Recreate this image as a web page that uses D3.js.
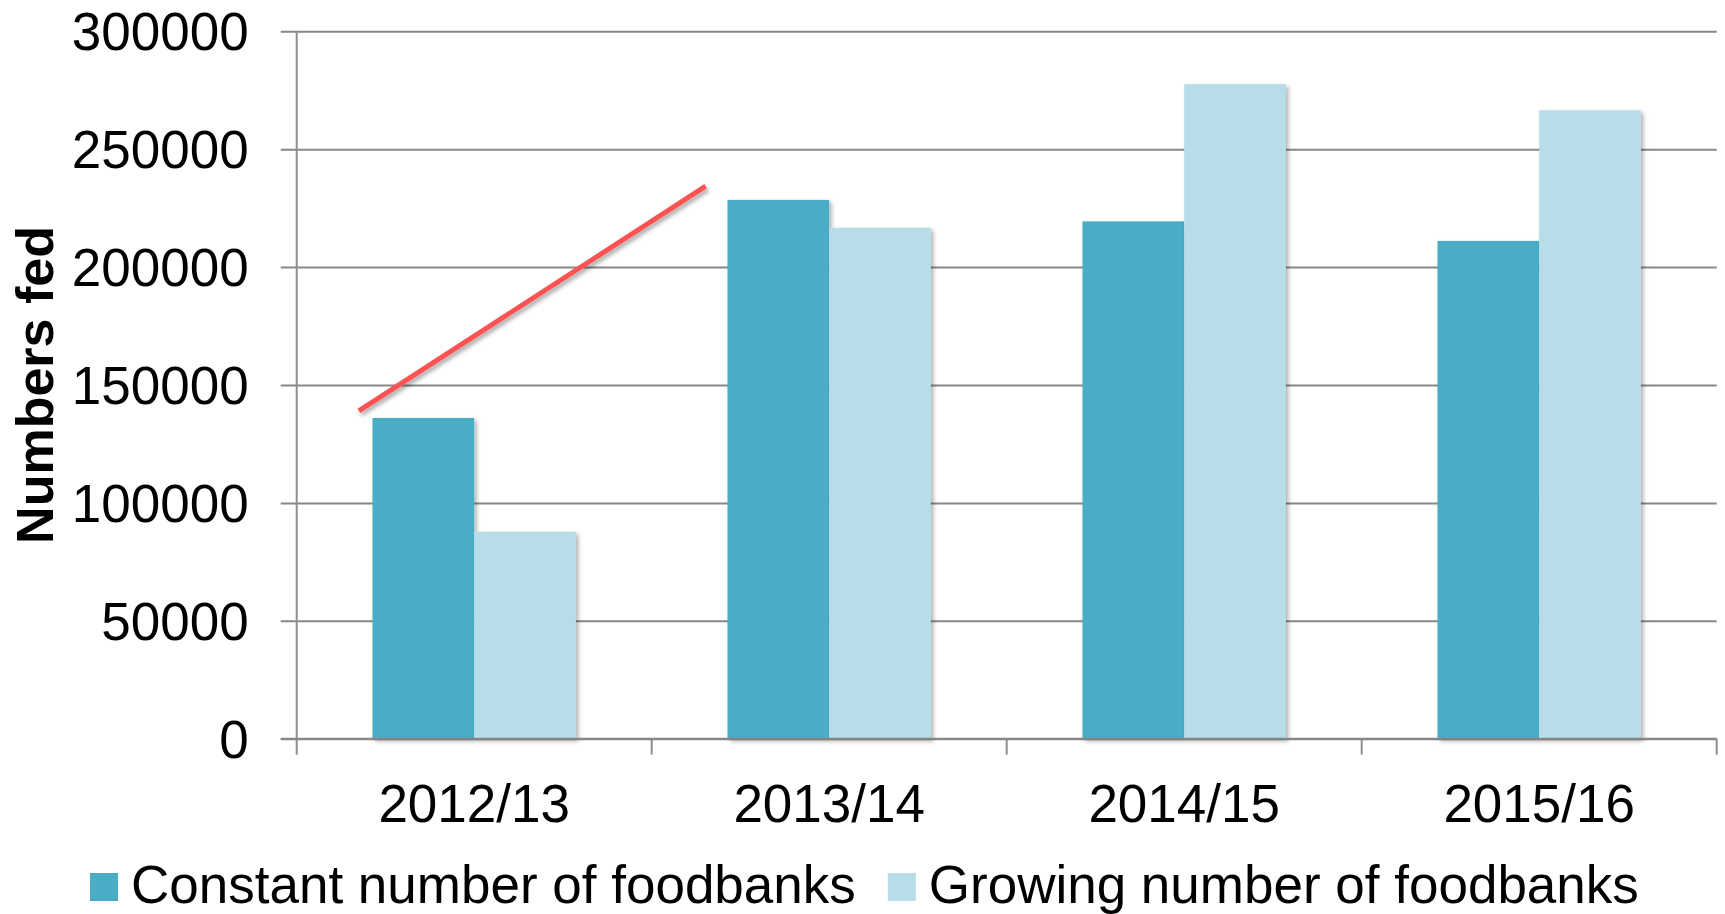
<!DOCTYPE html>
<html>
<head>
<meta charset="utf-8">
<script src="https://cdn.jsdelivr.net/npm/d3@7"></script>
<style>
  html, body { margin: 0; padding: 0; background: #fff; }
  svg { display: block; }
  text { font-family: "Liberation Sans", Arial, Helvetica, sans-serif; fill: #000; }
</style>
</head>
<body>
<svg id="chart" width="1725" height="914"></svg>
<script>
// Financial years on the category axis
const categories = ["2012/13", "2013/14", "2014/15", "2015/16"];

// Numbers fed under each scenario
const seriesNames = ["Constant number of foodbanks", "Growing number of foodbanks"];
const constantValues = [136000, 228500, 219400, 211100];
const growingValues  = [87800, 216700, 277600, 266500];

// Value axis ticks
const yTicks = [0, 50000, 100000, 150000, 200000, 250000, 300000];

// Trend annotation: position within a category band (fraction) and value
const trendPoints = [
  { category: "2012/13", offset: 0.175, value: 139000 },
  { category: "2013/14", offset: 0.152, value: 234300 }
];

const colors = ["#4BACC6", "#B7DDE8"];
const gridColor = "#878787";

const svg = d3.select("#chart");
const W = 1725, H = 914;
const plot = { left: 296.7, right: 1716.7, top: 31.3, bottom: 738.7 };

const defs = svg.append("defs");
const barShadow = defs.append("filter").attr("id", "barShadow")
  .attr("x", "-10%").attr("y", "-10%").attr("width", "130%").attr("height", "130%");
barShadow.append("feDropShadow").attr("dx", 2.5).attr("dy", 2.5)
  .attr("stdDeviation", 2).attr("flood-color", "#000").attr("flood-opacity", 0.3);
const lineShadow = defs.append("filter").attr("id", "lineShadow")
  .attr("x", "-10%").attr("y", "-20%").attr("width", "130%").attr("height", "150%");
lineShadow.append("feDropShadow").attr("dx", 2).attr("dy", 3)
  .attr("stdDeviation", 2).attr("flood-color", "#000").attr("flood-opacity", 0.35);

const x0 = d3.scaleBand().domain(categories).range([plot.left, plot.right]).padding(0);
const x1 = d3.scaleBand().domain(seriesNames).range([0, x0.bandwidth()])
  .paddingInner(0).paddingOuter(0.745);
const y = d3.scaleLinear().domain([0, 300000]).range([plot.bottom, plot.top]);

// Horizontal gridlines with short ticks left of the axis
const yAxis = d3.axisLeft(y).tickValues(yTicks).tickSize(-(plot.right - plot.left)).tickFormat(d => d);
const gy = svg.append("g").attr("transform", `translate(${plot.left},0)`).call(yAxis);
gy.select(".domain").remove();
gy.selectAll(".tick line")
  .attr("x1", -16)
  .attr("stroke", gridColor).attr("stroke-width", 2);
gy.selectAll(".tick text")
  .attr("x", -48).attr("dy", "0.35em")
  .style("font-size", "53px").attr("fill", "#000");

// Vertical axis line
svg.append("line")
  .attr("x1", plot.left).attr("x2", plot.left)
  .attr("y1", plot.top).attr("y2", plot.bottom + 16)
  .attr("stroke", "#8e8e8e").attr("stroke-width", 2);

// Category boundary ticks below the baseline
const boundaries = categories.map(c => x0(c) + x0.bandwidth());
svg.append("g").selectAll("line").data(boundaries).join("line")
  .attr("x1", d => d).attr("x2", d => d)
  .attr("y1", plot.bottom).attr("y2", plot.bottom + 16)
  .attr("stroke", "#8e8e8e").attr("stroke-width", 2);

// Bars
const rows = categories.map((c, i) => ({ category: c, values: [constantValues[i], growingValues[i]] }));
const groups = svg.append("g").selectAll("g").data(rows).join("g")
  .attr("transform", d => `translate(${x0(d.category)},0)`);
groups.selectAll("rect")
  .data(d => d.values.map((v, j) => ({ series: seriesNames[j], value: v, j })))
  .join("rect")
  .attr("x", d => x1(d.series))
  .attr("y", d => y(d.value))
  .attr("width", x1.bandwidth())
  .attr("height", d => y(0) - y(d.value))
  .attr("fill", d => colors[d.j])
  .attr("filter", "url(#barShadow)");

// Baseline drawn above bars
svg.append("line")
  .attr("x1", plot.left - 16).attr("x2", plot.right)
  .attr("y1", plot.bottom).attr("y2", plot.bottom)
  .attr("stroke", gridColor).attr("stroke-width", 2);

// Category labels
svg.append("g").selectAll("text").data(categories).join("text")
  .attr("x", d => x0(d) + x0.bandwidth() / 2)
  .attr("y", 821.5)
  .attr("text-anchor", "middle")
  .style("font-size", "53px")
  .text(d => d);

// Axis title
svg.append("text")
  .attr("transform", `translate(53,${(plot.top + plot.bottom) / 2}) rotate(-90)`)
  .attr("text-anchor", "middle")
  .style("font-size", "52px").style("font-weight", "bold")
  .text("Numbers fed");

// Trend annotation line
const trendLine = d3.line()
  .x(d => x0(d.category) + d.offset * x0.bandwidth())
  .y(d => y(d.value));
svg.append("path")
  .datum(trendPoints)
  .attr("d", trendLine)
  .attr("fill", "none")
  .attr("stroke", "#FF5252")
  .attr("stroke-width", 5)
  .attr("filter", "url(#lineShadow)");

// Legend along the bottom edge
const legend = svg.append("g").attr("transform", "translate(90,0)");
let cursor = 0;
seriesNames.forEach((name, i) => {
  const item = legend.append("g").attr("transform", `translate(${cursor},0)`);
  item.append("rect").attr("x", 0).attr("y", 873).attr("width", 28).attr("height", 28)
    .attr("fill", colors[i]);
  const t = item.append("text").attr("x", 41).attr("y", 903)
    .style("font-size", "53px").text(name);
  cursor += 41 + t.node().getComputedTextLength() + 32;
});
</script>
</body>
</html>
